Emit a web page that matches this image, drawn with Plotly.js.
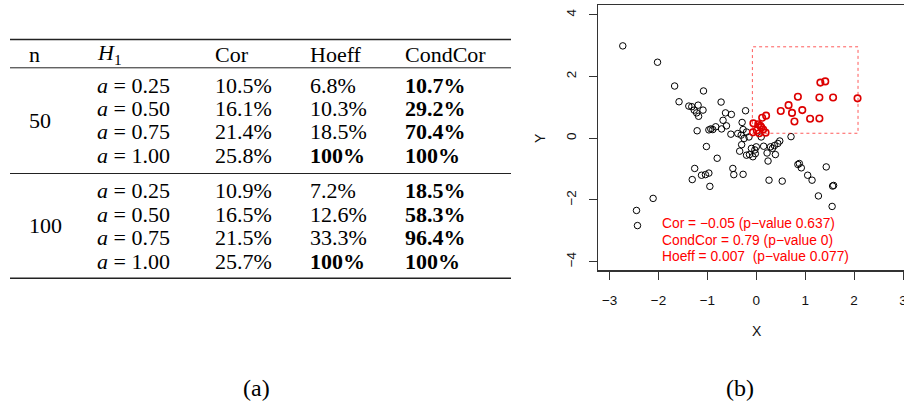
<!DOCTYPE html>
<html>
<head>
<meta charset="utf-8">
<script src="https://cdn.plot.ly/plotly-3.0.1.min.js"></script>
<style>
  html, body { margin: 0; padding: 0; background: #fff; }
  #fig { width: 904px; height: 409px; }
</style>
</head>
<body>
<div id="fig"></div>
<script>
// ---- (a) power table: rejection rates in % ----
const headers = ['n', '<i>H</i><sub>1</sub>', 'Cor', 'Hoeff', 'CondCor'];
const sampleSizes = ['50', '100'];
const aLevels = ['0.25', '0.50', '0.75', '1.00'];
const cor50 = [10.5, 16.1, 21.4, 25.8];
const hoeff50 = [6.8, 10.3, 18.5, 100];
const condCor50 = [10.7, 29.2, 70.4, 100];
const cor100 = [10.9, 16.5, 21.5, 25.7];
const hoeff100 = [7.2, 12.6, 33.3, 100];
const condCor100 = [18.5, 58.3, 96.4, 100];

// ---- (b) simulated sample: points outside / inside the conditioning region ----
const outX = [-2.73, -2.02, -1.67, -1.08, -1.58, -0.72, -1.38, -1.32, -1.19, -1.27,
              -1.09, -1.22, -1.18, -0.63, -0.51, -0.22, -0.68, -0.29, -1.21, -0.97,
              -0.93, -0.89, -0.83, -0.71, -0.61, -0.52, -0.38, -0.27, -0.20, -0.31,
              -0.25, -0.15, 0.10, 0.71,
              -1.02, -0.80, -1.26, -1.31, -1.12, -1.04, -0.97, -0.95, -2.11, -2.45,
              -2.43, -0.48, -0.46, -0.27, -0.30, -0.34, -0.20, -0.14, -0.07, -0.02,
              -0.03, 0.00, -0.10, 0.15, 0.22, 0.29, 0.33, 0.37, 0.39, 0.44,
              0.48, 0.24, 0.26, 0.53, 0.85, 0.88, 0.92, 1.05, 1.14, 1.43,
              1.27, 1.56, 1.58, 1.55];
const outY = [2.99, 2.46, 1.69, 1.53, 1.18, 1.17, 1.04, 1.02, 1.07, 0.91,
              0.91, 0.82, 0.71, 0.82, 0.77, 0.89, 0.58, 0.51, 0.24, 0.27,
              0.30, 0.28, 0.37, 0.30, 0.40, 0.13, 0.15, 0.28, 0.20, 0.10,
              -0.01, 0.04, 0.04, 0.05,
              -0.27, -0.65, -0.98, -1.34, -1.20, -1.18, -1.13, -1.56, -1.95, -2.34,
              -2.83, -0.98, -1.18, -1.17, -0.21, -0.42, -0.55, -0.53, -0.60, -0.50,
              -0.38, -0.28, -0.33, -0.26, -0.48, -0.28, -0.33, -0.24, -0.53, -0.17,
              -0.09, -0.74, -1.36, -1.39, -0.85, -0.82, -0.96, -1.20, -1.36, -0.93,
              -1.87, -1.55, -1.53, -2.21];
const inX = [-0.06, 0.04, 0.12, 0.20, 0.10, 0.01, -0.07, 0.06, 0.19, 0.08, 0.14,
             0.50, 0.66, 0.73, 0.85, 0.94, 0.78, 1.10, 1.29, 1.29, 1.31, 1.41, 1.57, 2.07];
const inY = [0.48, 0.45, 0.66, 0.73, 0.36, 0.25, 0.19, 0.16, 0.18, 0.40, 0.28,
             0.88, 1.07, 0.82, 1.34, 0.91, 0.54, 0.63, 0.64, 1.32, 1.80, 1.84, 1.32, 1.29];
const regionX = [-0.08, 2.08];
const regionY = [0.16, 2.96];
const statLines = ['Cor = \u22120.05 (p\u2212value 0.637)',
                   'CondCor = 0.79 (p\u2212value 0)',
                   'Hoeff = 0.007\u00a0 (p\u2212value 0.077)'];
const xTicks = [-3, -2, -1, 0, 1, 2, 3];
const yTicks = [-4, -2, 0, 2, 4];

// ---- page geometry (pixels) ----
const W = 904, H = 409;
const px = v => v / W;
const py = v => 1 - v / H;
const plotBox = { left: 598, right: 904, top: 5, bottom: 270 };

const serif = 'Liberation Serif, Times New Roman, serif';
const sans = 'Liberation Sans, Arial, Helvetica, sans-serif';

const annotations = [];
const shapes = [];

function cell(x, y, text, size) {
  annotations.push({
    xref: 'paper', yref: 'paper', x: px(x), y: py(y),
    xanchor: 'left', yanchor: 'middle', showarrow: false,
    text: text, font: { family: serif, size: size || 22, color: '#000' }
  });
}
function rule(y, w) {
  shapes.push({ type: 'line', xref: 'paper', yref: 'paper',
    x0: px(10), x1: px(511), y0: py(y), y1: py(y),
    line: { color: '#222', width: w } });
}

// table layout
const colX = [27, 95, 213, 308, 403];
const headerY = 54;
const blockTop = [68, 173.5];
const firstRowGap = 17, rowStep = 23.5;
const fmt = v => (v === 100 ? '100' : v.toFixed(1)) + '%';

headers.forEach((h, j) => cell(colX[j], headerY, h));
const blocks = [[cor50, hoeff50, condCor50], [cor100, hoeff100, condCor100]];
blocks.forEach((cols, b) => {
  const y0 = blockTop[b] + firstRowGap;
  cell(colX[0], y0 + rowStep * 1.5, sampleSizes[b]);
  aLevels.forEach((a, i) => {
    const y = y0 + rowStep * i;
    cell(colX[1], y, '<i>a</i> = ' + a);
    const best = Math.max(cols[0][i], cols[1][i], cols[2][i]);
    cols.forEach((col, k) => {
      const t = fmt(col[i]);
      cell(colX[2 + k], y, col[i] === best ? '<b>' + t + '</b>' : t);
    });
  });
});
rule(39.5, 1.6);
rule(67.8, 1.0);
rule(173.5, 1.0);
rule(278.3, 1.6);

// panel captions
annotations.push({ xref: 'paper', yref: 'paper', x: px(256), y: py(388),
  xanchor: 'center', yanchor: 'middle', showarrow: false, text: '(a)',
  font: { family: serif, size: 24, color: '#000' } });
annotations.push({ xref: 'paper', yref: 'paper', x: px(740), y: py(388),
  xanchor: 'center', yanchor: 'middle', showarrow: false, text: '(b)',
  font: { family: serif, size: 24, color: '#000' } });

// axis titles of the scatter panel
annotations.push({ xref: 'paper', yref: 'paper', x: px(756.5), y: py(331),
  xanchor: 'center', yanchor: 'middle', showarrow: false, text: 'X',
  font: { family: sans, size: 14, color: '#111' } });
annotations.push({ xref: 'paper', yref: 'paper', x: px(540), y: py(138),
  xanchor: 'center', yanchor: 'middle', showarrow: false, text: 'Y', textangle: -90,
  font: { family: sans, size: 14, color: '#111' } });

// statistics printed inside the scatter panel
const statY = [223.5, 240, 256.7];
statLines.forEach((s, i) => annotations.push({
  xref: 'paper', yref: 'paper', x: px(660), y: py(statY[i]),
  xanchor: 'left', yanchor: 'middle', showarrow: false, text: s,
  font: { family: sans, size: 13.8, color: '#FF0000' } }));

// conditioning region
shapes.push({ type: 'rect', xref: 'x', yref: 'y',
  x0: regionX[0], x1: regionX[1], y0: regionY[0], y1: regionY[1],
  line: { color: 'rgba(255,0,0,0.65)', width: 1, dash: 'dot' } });

const traces = [
  { type: 'scatter', mode: 'markers', x: outX, y: outY, hoverinfo: 'skip',
    marker: { symbol: 'circle-open', size: 6.5, color: '#000', line: { width: 1, color: '#000' } } },
  { type: 'scatter', mode: 'markers', x: inX, y: inY, hoverinfo: 'skip',
    marker: { symbol: 'circle-open', size: 6.5, color: '#DD0000', line: { width: 1.6, color: '#DD0000' } } }
];

const axisCommon = {
  showgrid: false, zeroline: false, showline: true,
  linecolor: '#333', linewidth: 1.5,
  ticks: 'outside', ticklen: 8, tickwidth: 1, tickcolor: '#333',
  tickfont: { family: sans, size: 13.5, color: '#111' },
  automargin: false, fixedrange: true, ticklabeloverflow: 'allow'
};

const layout = {
  width: W, height: H,
  margin: { l: 0, r: 0, t: 0, b: 0, pad: 0 },
  paper_bgcolor: '#fff', plot_bgcolor: '#fff',
  showlegend: false,
  xaxis: Object.assign({}, axisCommon, {
    domain: [px(plotBox.left), px(plotBox.right)],
    range: [-3.237, 3.02], tickvals: xTicks, mirror: true,
    ticklabelstandoff: 9
  }),
  yaxis: Object.assign({}, axisCommon, {
    domain: [py(plotBox.bottom), py(plotBox.top)],
    range: [-4.269, 4.314], tickvals: yTicks, tickangle: -90,
    ticklabelstandoff: 7
  }),
  annotations: annotations,
  shapes: shapes
};

Plotly.newPlot('fig', traces, layout, { displayModeBar: false, staticPlot: true });
</script>
</body>
</html>
